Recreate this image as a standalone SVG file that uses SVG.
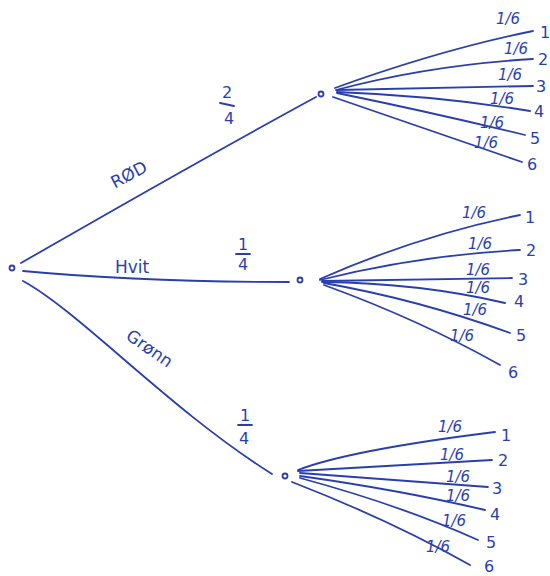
<svg xmlns="http://www.w3.org/2000/svg" width="550" height="576" viewBox="0 0 550 576">
<style>
.l{fill:none;stroke:#2a3fae;stroke-width:1.8;stroke-linecap:round}
.n{fill:none;stroke:#2a3fae;stroke-width:1.8}
text{font-family:"DejaVu Sans","Liberation Sans",sans-serif;fill:#2a3fae;font-size:16px}
.p{font-size:15px;font-style:italic}
.k{font-size:17px}
</style>
<rect width="550" height="576" fill="#fff"/>
<g id="connectors">
<path class="l" d="M21,263 Q200,160 316,97"/>
<path class="l" d="M23,271 Q140,282 289,282"/>
<path class="l" d="M23,281 C80,312 170,410 272,474"/>
<path class="l" d="M335,88 Q440,50 533,31"/>
<path class="l" d="M336,90 Q430,65 533,59"/>
<path class="l" d="M337,90 L533,86"/>
<path class="l" d="M337,92 Q440,96 530,111"/>
<path class="l" d="M337,93 Q430,112 525,135"/>
<path class="l" d="M333,97 Q430,130 522,162"/>
<path class="l" d="M320,279 Q420,235 520,215"/>
<path class="l" d="M320,280 Q420,255 520,250"/>
<path class="l" d="M322,281 L512,278"/>
<path class="l" d="M322,282 Q420,283 505,303"/>
<path class="l" d="M324,283 Q420,300 510,333"/>
<path class="l" d="M324,285 Q420,320 500,365"/>
<path class="l" d="M298,470 Q350,450 495,432"/>
<path class="l" d="M298,471 L492,460"/>
<path class="l" d="M300,473 L488,487"/>
<path class="l" d="M300,476 Q400,490 485,510"/>
<path class="l" d="M300,478 Q400,505 478,540"/>
<path class="l" d="M292,482 Q390,520 470,565"/>
</g>
<g id="root"><circle class="n" cx="12" cy="268" r="2.5"/></g>
<g id="node-rod"><circle class="n" cx="321" cy="94" r="2.5"/></g>
<g id="node-hvit"><circle class="n" cx="300" cy="280" r="2.5"/></g>
<g id="node-gronn"><circle class="n" cx="285" cy="476" r="2.5"/></g>
<g id="labels">
<text x="110" y="180" transform="rotate(-28 130 175)" class="k">RØD</text>
<text x="222" y="98">2</text>
<line class="l" x1="220" y1="103" x2="234" y2="106"/>
<text x="224" y="124">4</text>
<text x="115" y="273" class="k">Hvit</text>
<text x="238" y="250">1</text>
<line class="l" x1="236" y1="254" x2="250" y2="254"/>
<text x="238" y="270">4</text>
<text x="118" y="350" transform="rotate(35 140 355)" class="k">Grønn</text>
<text x="240" y="421">1</text>
<line class="l" x1="238" y1="425" x2="252" y2="425"/>
<text x="239" y="444">4</text>
</g>
<g id="leaves-rod">
<text class="p" x="496" y="24">1/6</text><text x="540" y="38">1</text>
<text class="p" x="504" y="54">1/6</text><text x="538" y="65">2</text>
<text class="p" x="498" y="80">1/6</text><text x="536" y="92">3</text>
<text class="p" x="490" y="104">1/6</text><text x="534" y="117">4</text>
<text class="p" x="480" y="128">1/6</text><text x="530" y="144">5</text>
<text class="p" x="474" y="148">1/6</text><text x="527" y="170">6</text>
</g>
<g id="leaves-hvit">
<text class="p" x="462" y="218">1/6</text><text x="525" y="223">1</text>
<text class="p" x="468" y="249">1/6</text><text x="526" y="256">2</text>
<text class="p" x="466" y="275">1/6</text><text x="518" y="285">3</text>
<text class="p" x="466" y="293">1/6</text><text x="514" y="307">4</text>
<text class="p" x="463" y="315">1/6</text><text x="516" y="341">5</text>
<text class="p" x="450" y="341">1/6</text><text x="508" y="378">6</text>
</g>
<g id="leaves-gronn">
<text class="p" x="438" y="432">1/6</text><text x="501" y="441">1</text>
<text class="p" x="440" y="460">1/6</text><text x="498" y="466">2</text>
<text class="p" x="446" y="482">1/6</text><text x="492" y="494">3</text>
<text class="p" x="446" y="501">1/6</text><text x="490" y="520">4</text>
<text class="p" x="442" y="526">1/6</text><text x="486" y="548">5</text>
<text class="p" x="426" y="552">1/6</text><text x="484" y="572">6</text>
</g>
</svg>
